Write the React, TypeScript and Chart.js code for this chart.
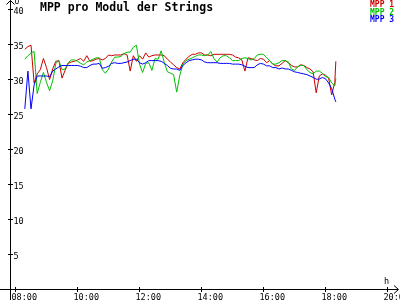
import { useEffect, useRef } from "react";
import { Chart, registerables } from "chart.js";

Chart.register(...registerables);

// time of day, minutes since midnight
const TIMES = [
  498, 504, 510, 516, 522, 528, 534,
  540, 546, 552, 558, 564, 570, 576, 582, 588, 594,
  600, 606, 612, 618, 624, 630, 636, 642, 648, 654,
  660, 666, 672, 678, 684, 690, 696, 702, 708, 714,
  720, 726, 732, 738, 744, 750, 756, 762, 768, 774,
  780, 786, 792, 798, 804, 810, 816, 822, 828, 834,
  840, 846, 852, 858, 864, 870, 876, 882, 888, 894,
  900, 906, 912, 918, 924, 930, 936, 942, 948, 954,
  960, 966, 972, 978, 984, 990, 996, 1002, 1008, 1014,
  1020, 1026, 1032, 1038, 1044, 1050, 1056, 1062, 1068, 1074,
  1080, 1086, 1092, 1098, 1100,
];

const MPP1 = [
  34.3, 34.7, 34.9, 29.5, 30.8, 31.4, 33.0,
  31.7, 30.0, 31.5, 32.6, 32.7, 30.2, 31.3, 32.3, 32.5, 32.6,
  32.8, 33.0, 32.6, 33.4, 32.6, 32.7, 32.9, 33.0, 32.8, 33.0,
  33.5, 33.4, 33.5, 33.5, 33.5, 33.7, 33.5, 31.2, 33.4, 32.6,
  33.4, 32.9, 33.8, 33.2, 33.4, 33.5, 33.5, 33.5, 33.4, 32.9,
  32.5, 32.1, 31.7, 31.5, 32.4, 32.9, 33.3, 33.6, 33.6, 33.8,
  33.8, 33.5, 33.5, 33.4, 33.6, 33.6, 33.6, 33.6, 33.6, 33.6,
  33.5, 33.2, 33.1, 32.8, 31.2, 33.1, 33.0, 32.8, 32.7, 33.0,
  32.9, 32.4, 32.7, 32.2, 31.95, 31.95, 32.3, 32.7, 32.4, 32.0,
  31.8, 31.8, 32.1, 32.0, 31.7, 31.5, 31.1, 28.1, 30.5, 30.8,
  30.6, 30.2, 27.8, 29.6, 32.6,
];

const MPP2 = [
  32.9, 33.4, 33.8, 34.0, 28.0, 29.6, 31.0,
  29.6, 28.4, 29.8, 32.3, 32.7, 31.4, 31.5, 32.4, 32.8, 32.8,
  32.6, 32.3, 32.1, 32.5, 32.7, 32.9, 33.1, 33.1, 31.4, 30.9,
  31.5, 32.5, 33.2, 33.2, 33.3, 33.7, 33.9, 33.9, 34.6, 34.9,
  32.2, 31.0, 32.3, 32.4, 31.3, 33.0, 32.9, 34.1, 32.4, 31.1,
  30.9, 30.7, 28.2, 30.6, 32.2, 32.7, 32.9, 33.1, 33.3, 33.5,
  33.5, 33.4, 33.5, 34.0, 33.0, 32.5, 33.1, 33.4, 33.4, 33.1,
  32.7, 32.7, 32.7, 33.0, 33.1, 33.0, 32.8, 33.0, 33.5, 33.6,
  33.6, 33.1, 32.7, 32.2, 32.2, 32.4, 32.7, 32.7, 32.5, 31.5,
  31.3, 31.8, 32.0, 32.0, 31.4, 31.0, 30.8, 31.2, 31.2, 30.9,
  30.4, 30.3, 29.5, 29.1, 30.2,
];

const MPP3 = [
  25.8, 31.2, 25.8, 29.2, 30.5, 30.5, 30.5,
  30.5, 30.4, 31.2, 31.5, 31.8, 32.0, 32.0, 32.0, 32.0, 32.0,
  32.0, 31.9, 31.7, 31.7, 32.0, 32.2, 32.2, 32.3, 31.6, 31.7,
  31.9, 32.3, 32.4, 32.3, 32.3, 32.4, 32.5, 32.7, 32.9, 32.9,
  32.4, 32.2, 32.4, 32.7, 32.7, 32.7, 32.7, 32.6, 32.3, 32.0,
  31.6, 31.5, 31.5, 31.3, 32.0, 32.4, 32.7, 32.8, 32.9, 32.9,
  32.8, 32.5, 32.4, 32.4, 32.4, 32.4, 32.3, 32.3, 32.3, 32.3,
  32.2, 32.2, 32.2, 32.1, 31.9, 31.7, 31.7, 31.7, 32.1, 32.3,
  32.2, 31.95, 31.95, 31.7, 31.7, 31.5, 31.65, 31.5, 31.5, 31.3,
  31.1, 31.0, 30.9, 30.8, 30.7, 30.5, 30.3, 30.05, 30.05, 30.3,
  30.1, 29.5, 28.7, 27.2, 26.8,
];

const SERIES_NAMES = ["MPP 1", "MPP 2", "MPP 3"];
const X_TICK_VALUES = [480, 600, 720, 840, 960, 1080, 1200];
const X_TICK_LABELS = ["08:00", "10:00", "12:00", "14:00", "16:00", "18:00", "20:00"];
const Y_TICKS = [5, 10, 15, 20, 25, 30, 35, 40];
const TITLE = "MPP pro Modul der Strings";
const X_UNIT = "h";
const Y_UNIT = "U";

const COLORS = ["#cc0000", "#00c000", "#0000ff"];
const MONO = "'DejaVu Sans Mono', 'Liberation Mono', monospace";

const axesPlugin = {
  id: "rrdAxes",
  beforeDraw(chart: any) {
    const ctx = chart.ctx;
    ctx.save();
    ctx.fillStyle = "#ffffff";
    ctx.fillRect(0, 0, chart.width, chart.height);
    ctx.restore();
  },
  beforeDatasetsDraw(chart: any) {
    const ctx = chart.ctx;
    const xs = chart.scales.x;
    const ys = chart.scales.y;
    const ax = Math.floor(xs.getPixelForValue(470)) + 0.5;
    const ay = Math.floor(ys.getPixelForValue(0)) + 0.5;
    ctx.save();
    ctx.strokeStyle = "#000000";
    ctx.lineWidth = 1;
    ctx.beginPath();
    // x axis with arrow
    ctx.moveTo(0, ay);
    ctx.lineTo(398, ay);
    ctx.moveTo(394, ay - 4);
    ctx.lineTo(398.5, ay);
    ctx.lineTo(394, ay + 4);
    // y axis with arrow
    ctx.moveTo(ax, 300);
    ctx.lineTo(ax, 0.5);
    ctx.moveTo(ax - 4, 4.5);
    ctx.lineTo(ax, 0.5);
    ctx.lineTo(ax + 4, 4.5);
    // ticks
    Y_TICKS.forEach((v) => {
      const py = Math.floor(ys.getPixelForValue(v)) + 0.5;
      ctx.moveTo(ax - 2.5, py);
      ctx.lineTo(ax + 2.5, py);
    });
    X_TICK_VALUES.forEach((t) => {
      const px = Math.floor(xs.getPixelForValue(t)) + 0.5;
      ctx.moveTo(px, ay - 2.5);
      ctx.lineTo(px, ay + 2.5);
    });
    ctx.stroke();

    ctx.fillStyle = "#000000";
    ctx.textAlign = "left";
    ctx.textBaseline = "alphabetic";
    ctx.font = `8.5px ${MONO}`;
    Y_TICKS.forEach((v) => {
      const py = Math.floor(ys.getPixelForValue(v)) + 0.5;
      ctx.fillText(String(v), ax + 3, py + 4);
    });
    X_TICK_VALUES.forEach((t, i) => {
      const px = Math.floor(xs.getPixelForValue(t)) + 0.5;
      ctx.fillText(X_TICK_LABELS[i], px - 4, 300);
    });
    ctx.fillText(X_UNIT, 384, 284);
    ctx.font = `8px ${MONO}`;
    ctx.fillText(Y_UNIT, ax + 4, 3.5);

    // title
    ctx.font = `bold 11.5px ${MONO}`;
    ctx.fillText(TITLE, 40, 11);

    // legend
    ctx.font = `bold 8px ${MONO}`;
    const rows = [7, 14.7, 22.4];
    SERIES_NAMES.forEach((n, i) => {
      ctx.fillStyle = COLORS[i];
      ctx.fillText(n, 370, rows[i]);
    });
    ctx.restore();
  },
};

export default function App() {
  const ref = useRef<HTMLCanvasElement | null>(null);
  useEffect(() => {
    if (!ref.current) return;
    const series = [MPP1, MPP2, MPP3];
    const chart = new Chart(ref.current, {
      type: "line",
      data: {
        datasets: series.map((vals, i) => ({
          label: SERIES_NAMES[i],
          data: TIMES.map((t, j) => ({ x: t, y: vals[j] })),
          borderColor: COLORS[i],
          backgroundColor: COLORS[i],
          borderWidth: 1,
          pointRadius: 0,
          tension: 0,
          fill: false,
          order: 3 - i,
        })),
      },
      options: {
        responsive: false,
        animation: false,
        layout: { padding: 0 },
        plugins: { legend: { display: false }, tooltip: { enabled: false }, title: { display: false } },
        scales: {
          x: { type: "linear", min: 450, max: 1224.19, display: false },
          y: { type: "linear", min: -1.5, max: 41.357, display: false },
        },
      },
      plugins: [axesPlugin],
    });
    return () => chart.destroy();
  }, []);
  return (
    <div style={{ position: "fixed", left: 0, top: 0, width: 400, height: 300, background: "#fff" }}>
      <canvas ref={ref} width={400} height={300} style={{ display: "block" }} />
    </div>
  );
}
